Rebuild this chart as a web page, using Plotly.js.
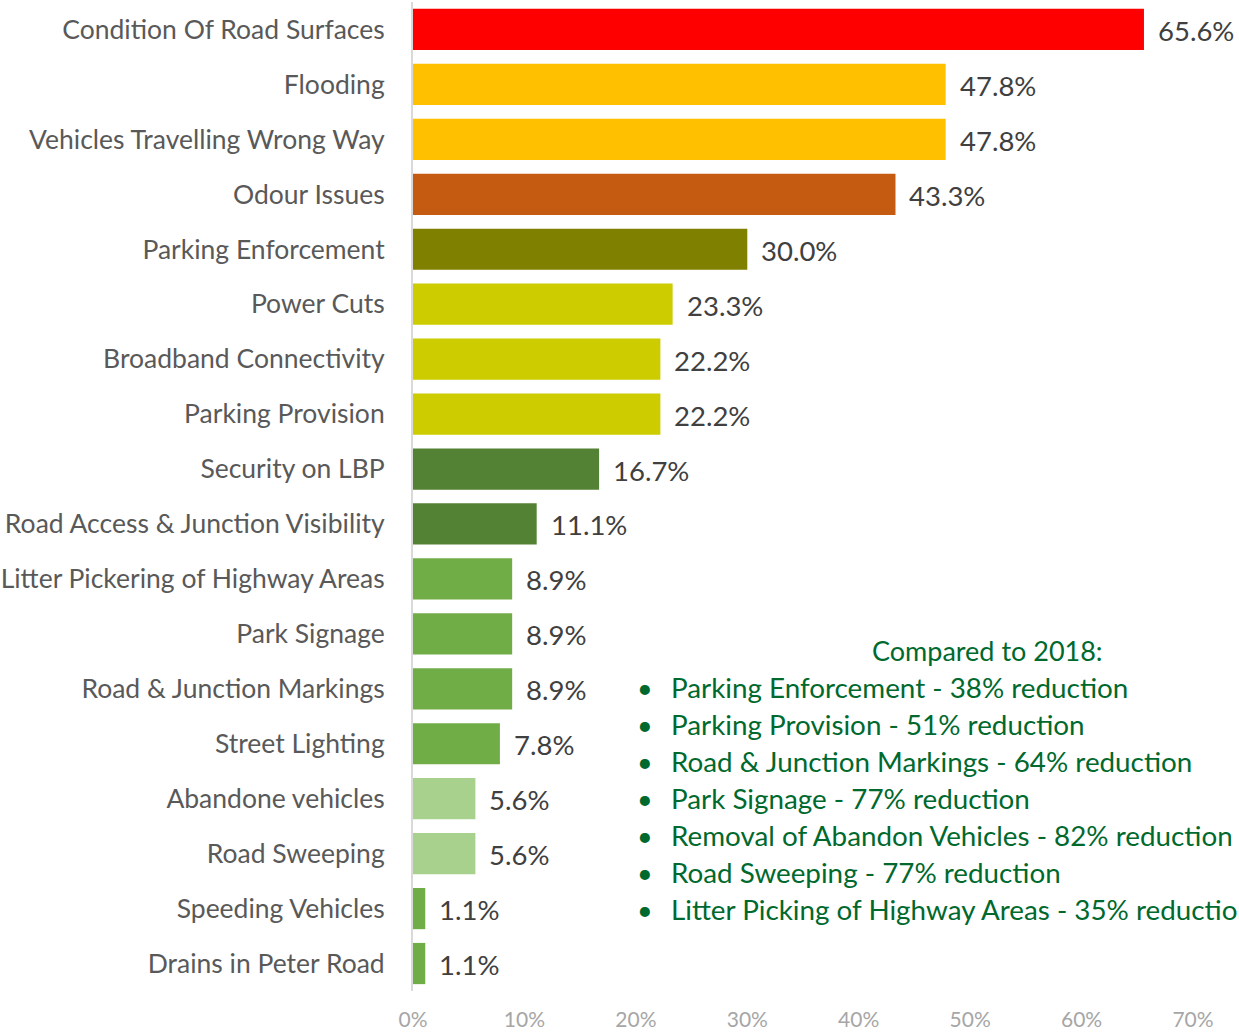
<!DOCTYPE html>
<html>
<head>
<meta charset="utf-8">
<script src="https://cdn.plot.ly/plotly-3.0.1.min.js"></script>
<style>html,body{margin:0;padding:0;background:#fff;}#chart{width:1239px;height:1033px;}</style>
</head>
<body>
<div id="chart"></div>
<script>
const categories = [
  "Condition Of Road Surfaces","Flooding","Vehicles Travelling Wrong Way","Odour Issues",
  "Parking Enforcement","Power Cuts","Broadband Connectivity","Parking Provision",
  "Security on LBP","Road Access & Junction Visibility","Litter Pickering of Highway Areas",
  "Park Signage","Road & Junction Markings","Street Lighting","Abandone vehicles",
  "Road Sweeping","Speeding Vehicles","Drains in Peter Road"
];
const values = [65.6,47.8,47.8,43.3,30.0,23.3,22.2,22.2,16.7,11.1,8.9,8.9,8.9,7.8,5.6,5.6,1.1,1.1];
const barColors = [
  "#FF0000","#FFC000","#FFC000","#C55A11","#7F7F00","#CCCC00","#CCCC00","#CCCC00",
  "#548235","#548235","#70AD47","#70AD47","#70AD47","#70AD47","#A9D18E","#A9D18E","#70AD47","#70AD47"
];
const tickVals = [0,10,20,30,40,50,60,70];
const tickText = ["0%","10%","20%","30%","40%","50%","60%","70%"];
const noteTitle = "Compared to 2018:";
const noteLines = [
  "Parking Enforcement - 38% reduction",
  "Parking Provision - 51% reduction",
  "Road & Junction Markings - 64% reduction",
  "Park Signage - 77% reduction",
  "Removal of Abandon Vehicles - 82% reduction",
  "Road Sweeping - 77% reduction",
  "Litter Picking of Highway Areas - 35% reduction"
];

const FONT = "Lato, 'Open Sans', sans-serif";
const green = "#00692E";

const bars = {
  type: "bar", orientation: "h",
  x: values, y: categories,
  marker: {color: barColors, line: {width: 0}},
  width: 0.75,
  hoverinfo: "skip"
};

const annotations = [];
values.forEach((v, i) => {
  annotations.push({
    xref: "x", yref: "y", x: v, y: categories[i],
    xanchor: "left", yanchor: "middle", xshift: 12, yshift: -1, showarrow: false,
    text: v.toFixed(1) + "%", font: {family: FONT, size: 27.5, color: "#404040"}
  });
});
annotations.push({
  xref: "paper", yref: "paper", x: (987 - 413) / 780, y: 1 - (651 - 3) / 988,
  xanchor: "center", yanchor: "middle", showarrow: false,
  text: noteTitle, font: {family: FONT, size: 27, color: green}
});
noteLines.forEach((t, i) => {
  const py = 688 + i * 36.9;
  annotations.push({
    xref: "paper", yref: "paper", x: (645 - 413) / 780, y: 1 - (py - 3) / 988,
    xanchor: "center", yanchor: "middle", showarrow: false,
    text: "•", font: {family: FONT, size: 27, color: green}
  });
  annotations.push({
    xref: "paper", yref: "paper", x: (669 - 413) / 780, y: 1 - (py - 3) / 988,
    xanchor: "left", yanchor: "middle", showarrow: false,
    text: t, font: {family: FONT, size: 27.8, color: green}
  });
});

const layout = {
  width: 1239, height: 1033,
  margin: {l: 413, r: 46, t: 2, b: 42, pad: 0},
  paper_bgcolor: "#fff", plot_bgcolor: "#fff",
  showlegend: false,
  bargap: 0.25,
  xaxis: {
    range: [0, 70], tickvals: tickVals, ticktext: tickText,
    showgrid: false, zeroline: false, showline: false,
    tickfont: {family: FONT, size: 21, color: "#A6A6A6"},
    ticks: "", ticklabelstandoff: 14
  },
  yaxis: {
    type: "category", categoryorder: "array", categoryarray: categories,
    range: [categories.length - 0.5, -0.5], showgrid: false, zeroline: false,
    showline: true, linecolor: "#D9D9D9", linewidth: 2,
    ticks: "", ticklabelstandoff: 21,
    tickfont: {family: FONT, size: 26.5, color: "#595959"}
  },
  annotations: annotations
};

Plotly.newPlot("chart", [bars], layout, {displayModeBar: false, staticPlot: true});
</script>
</body>
</html>
